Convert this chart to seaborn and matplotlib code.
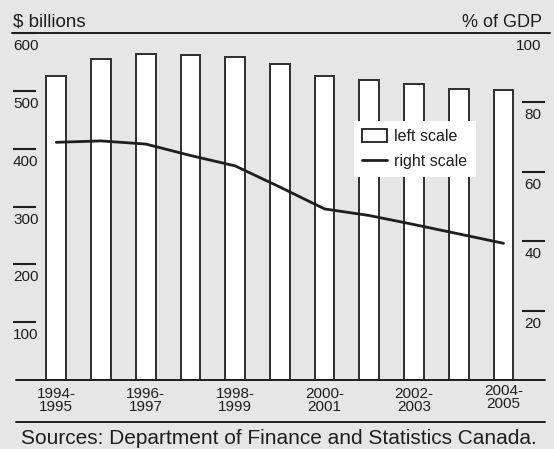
import numpy as np
import pandas as pd
import matplotlib
matplotlib.use("Agg")
import matplotlib.pyplot as plt
import seaborn as sns
from matplotlib.transforms import ScaledTranslation
from matplotlib.patches import Patch
from matplotlib.lines import Line2D

# ---- data ----
fiscal_years = ["1994-1995", "1995-1996", "1996-1997", "1997-1998", "1998-1999",
                "1999-2000", "2000-2001", "2001-2002", "2002-2003", "2003-2004",
                "2004-2005"]
debt_billions = [525.5, 555, 563.5, 562, 559, 546, 526, 518.5, 512, 503, 501.5]
debt_pct_gdp = [68.5, 68.9, 68.0, 64.7, 61.7, 55.6, 49.3, 47.4, 44.8, 42.1, 39.4]
left_ticks = [100, 200, 300, 400, 500, 600]
right_ticks = [20, 40, 60, 80, 100]
xtick_labels = ["1994-\n1995", "", "1996-\n1997", "", "1998-\n1999", "",
                "2000-\n2001", "", "2002-\n2003", "", "2004-\n2005"]

BG = "#e6e6e6"
INK = "#1e1e1e"
EDGE = "#2e2e2e"

sns.set_theme(style="white")
plt.rcParams["font.family"] = ["Liberation Sans", "DejaVu Sans"]
plt.rcParams["text.color"] = INK

W, H = 554, 449
fig = plt.figure(figsize=(W / 100, H / 100), dpi=100, facecolor=BG)
L, R, T, B = 13, 545, 33, 380
ax = fig.add_axes([L / W, (H - B) / H, (R - L) / W, (B - T) / H])
ax.set_facecolor(BG)

df = pd.DataFrame({"year": fiscal_years, "debt": debt_billions, "pct": debt_pct_gdp})

sns.barplot(data=df, x="year", y="debt", ax=ax, color="white", saturation=1,
            edgecolor=EDGE, linewidth=1.4, width=0.44)
ax.set_ylim(0, 600)
ax.set_xlim(-0.968, 10.928)
ax.set_xlabel("")
ax.set_ylabel("")
for s in ax.spines.values():
    s.set_visible(False)

# left axis ticks: short lines, label below
ax.set_yticks(left_ticks)
ax.set_yticklabels([str(v) for v in left_ticks])
ax.tick_params(axis="y", direction="in", length=16.5, width=1.5, color=INK,
               pad=0, labelsize=11, labelcolor=INK, left=True)
off = ScaledTranslation(0, -6 / 100, fig.dpi_scale_trans)
for lab in ax.get_yticklabels():
    lab.set_horizontalalignment("left")
    lab.set_verticalalignment("top")
    lab.set_transform(lab.get_transform() + off)

# x tick labels
ax.set_xticks(range(len(fiscal_years)))
ax.set_xticklabels(xtick_labels, linespacing=0.93)
ax.tick_params(axis="x", length=0, pad=5, labelsize=11, labelcolor=INK)
up = ScaledTranslation(0, 3 / 100, fig.dpi_scale_trans)
last = ax.get_xticklabels()[-1]
last.set_transform(last.get_transform() + up)

# reference lines
ax.axhline(600, xmin=-0.001, xmax=(550 - L) / (R - L), color=INK, lw=1.4, clip_on=False)
ax.axhline(0, xmin=(16 - L) / (R - L), xmax=1.0, color=INK, lw=1.4, clip_on=False)

# right axis
ax2 = ax.twinx()
sns.lineplot(x=np.arange(len(fiscal_years)), y=debt_pct_gdp, ax=ax2, color=INK,
             linewidth=2.0)
ax2.set_ylim(0, 100)
ax2.set_xlim(-0.968, 10.928)
for s in ax2.spines.values():
    s.set_visible(False)
ax2.set_yticks(right_ticks)
ax2.set_yticklabels([str(v) for v in right_ticks])
ax2.tick_params(axis="y", direction="in", length=16.5, width=1.5, color=INK,
                pad=-2.4, labelsize=11, labelcolor=INK, right=True)
for lab, v in zip(ax2.get_yticklabels(), right_ticks):
    lab.set_horizontalalignment("right")
    lab.set_verticalalignment("top")
    lab.set_transform(lab.get_transform() + off)
ax2.yaxis.get_major_ticks()[-1].tick2line.set_visible(False)
ax2.set_ylabel("")

# legend
handles = [Patch(facecolor="white", edgecolor=INK, linewidth=1.3),
           Line2D([0], [0], color=INK, lw=2.0)]
leg = ax2.legend(handles, ["left scale", "right scale"], loc="upper left",
                 bbox_to_anchor=((354 - L) / (R - L), (B - 121) / (B - T)),
                 borderaxespad=0, frameon=True, fancybox=False, framealpha=1,
                 facecolor="white", edgecolor="white", fontsize=11.5,
                 handlelength=1.57, handleheight=0.87, handletextpad=0.46,
                 borderpad=0.5, labelspacing=0.6)
leg.get_frame().set_linewidth(0)

# titles and footer
fig.text(13 / W, (H - 26.7) / H, "$ billions", ha="left", va="baseline",
         fontsize=13.5, color=INK)
fig.text(541.7 / W, (H - 26.7) / H, "% of GDP", ha="right", va="baseline",
         fontsize=13, color=INK)
fig.add_artist(Line2D([16 / W, 545 / W], [(H - 422.3) / H] * 2, color=INK, lw=1.4,
                      transform=fig.transFigure))
fig.text(20.7 / W, (H - 444.5) / H, "Sources: Department of Finance and Statistics Canada.",
         ha="left", va="baseline", fontsize=15, color=INK)

fig.savefig("out.png", dpi=100, facecolor=BG)
